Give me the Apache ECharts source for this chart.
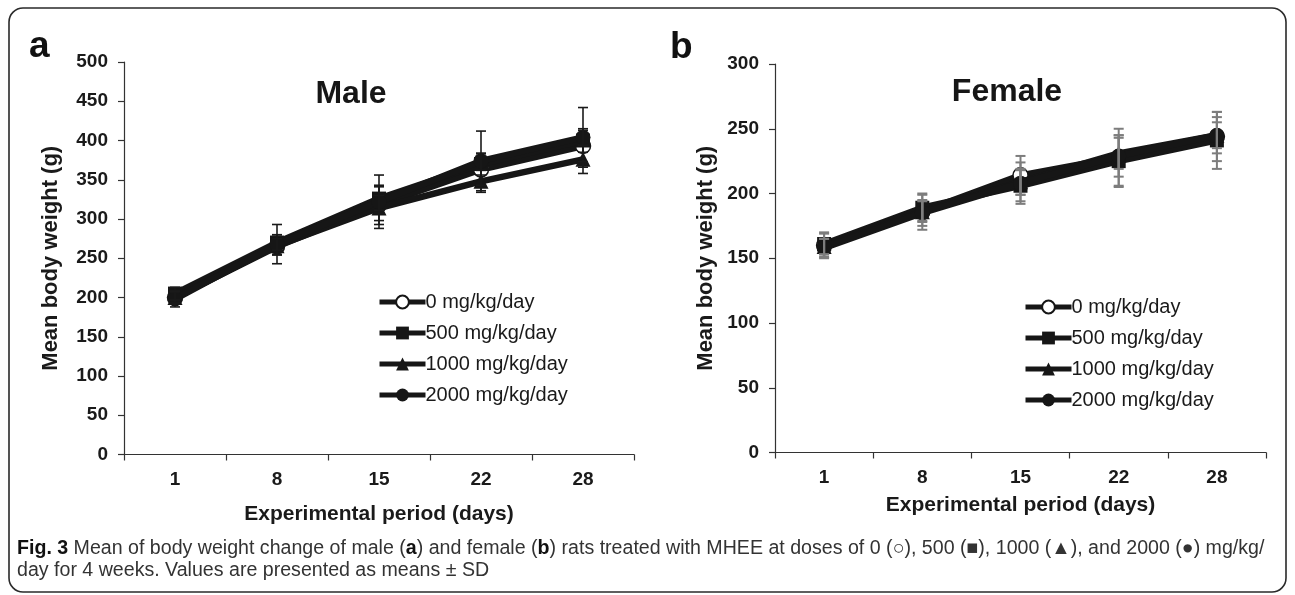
<!DOCTYPE html>
<html>
<head>
<meta charset="utf-8">
<script src="https://cdn.jsdelivr.net/npm/echarts@6/dist/echarts.min.js"></script>
<style>
html,body{margin:0;padding:0;background:#fff;}
#c{width:1295px;height:595px;}
</style>
</head>
<body>
<div id="c"></div>
<script>
// ---- data ----
const days = ['1', '8', '15', '22', '28'];
const doseNames = ['0 mg/kg/day', '500 mg/kg/day', '1000 mg/kg/day', '2000 mg/kg/day'];

const male0 = [200, 265, 318, 363, 393];
const male500 = [205, 270, 326, 370, 400];
const male1000 = [200, 266, 314, 348, 376];
const male2000 = [198, 268, 322, 374, 404];
const maleSd0 = [8, 10, 25, 20, 20];
const maleSd500 = [8, 10, 15, 14, 15];
const maleSd1000 = [7, 12, 16, 14, 18];
const maleSd2000 = [10, 25, 34, 38, 38];

const female0 = [160, 186, 214, 228, 244];
const female500 = [161, 189, 206, 225, 241];
const female1000 = [159, 186, 209, 231, 245];
const female2000 = [158, 185, 208, 229, 245];
const femaleSd0 = [10, 14, 15, 22, 19];
const femaleSd500 = [8, 10, 12, 20, 22];
const femaleSd1000 = [6, 8, 10, 12, 10];
const femaleSd2000 = [7, 10, 16, 16, 14];

const maleTicksMax = 500;
const femaleTicksMax = 300;

// ---- build ----
const FONT = '"Liberation Sans", Arial, sans-serif';
const INK = '#161616';
const symbols = ['circle', 'rect', 'triangle', 'circle'];

function lineSeries(name, idx, data, gi) {
  const open = idx === 0;
  return {
    type: 'line', name: name, xAxisIndex: gi, yAxisIndex: gi,
    data: data, symbol: symbols[idx],
    symbolSize: idx === 1 ? 14 : 15,
    lineStyle: {color: INK, width: 6.5},
    itemStyle: open ? {color: '#fff', borderColor: INK, borderWidth: 1.5} : {color: INK, borderColor: INK, borderWidth: 0},
    emphasis: {disabled: true},
    z: 3 + idx, animation: false
  };
}
function errSeries(means, sds, gi, color, width) {
  const d = means.map((m, i) => [i, m - sds[i], m + sds[i]]);
  return {
    type: 'custom', xAxisIndex: gi, yAxisIndex: gi, data: d, z: 10, animation: false,
    silent: true,
    renderItem: function (params, api) {
      const x = api.value(0);
      const lo = api.coord([x, api.value(1)]);
      const hi = api.coord([x, api.value(2)]);
      const w = 5;
      const st = {stroke: color, lineWidth: width};
      return {type: 'group', children: [
        {type: 'line', shape: {x1: lo[0], y1: lo[1], x2: hi[0], y2: hi[1]}, style: st},
        {type: 'line', shape: {x1: lo[0] - w, y1: lo[1], x2: lo[0] + w, y2: lo[1]}, style: st},
        {type: 'line', shape: {x1: hi[0] - w, y1: hi[1], x2: hi[0] + w, y2: hi[1]}, style: st}
      ]};
    }
  };
}

const axisLine = {lineStyle: {color: '#333', width: 1.2}};
function xAxis(gi, nameGap) {
  return {
    type: 'category', gridIndex: gi, data: days, boundaryGap: true,
    axisLine: axisLine, axisTick: {show: true, length: 6, lineStyle: {color: '#333', width: 1.2}},
    axisLabel: {color: '#1a1a1a', fontFamily: FONT, fontWeight: 'bold', fontSize: 19, margin: 16},
    name: 'Experimental period (days)', nameLocation: 'middle', nameGap: nameGap,
    nameTextStyle: {color: '#1a1a1a', fontFamily: FONT, fontWeight: 'bold', fontSize: 21},
    splitLine: {show: false}
  };
}
function yAxis(gi, max, nameGap) {
  return {
    type: 'value', gridIndex: gi, min: 0, max: max, interval: 50,
    axisLine: {show: true, lineStyle: {color: '#333', width: 1.2}},
    axisTick: {show: true, length: 6, lineStyle: {color: '#333', width: 1.2}},
    axisLabel: {color: '#1a1a1a', fontFamily: FONT, fontWeight: 'bold', fontSize: 19, margin: 16},
    splitLine: {show: false},
    name: 'Mean body weight (g)', nameLocation: 'middle', nameGap: nameGap, nameRotate: 90,
    nameTextStyle: {color: '#1a1a1a', fontFamily: FONT, fontWeight: 'bold', fontSize: 22}
  };
}
function legend(left, top) {
  return {
    orient: 'vertical', left: left, top: top, data: doseNames, padding: 0,
    itemWidth: 46, itemHeight: 16, itemGap: 11,
    lineStyle: {width: 5, color: INK},
    textStyle: {color: '#1a1a1a', fontFamily: FONT, fontSize: 20, padding: [0, 0, 0, -5]},
    selectedMode: false
  };
}

const maleSets = [male0, male500, male1000, male2000];
const maleSds = [maleSd0, maleSd500, maleSd1000, maleSd2000];
const femaleSets = [female0, female500, female1000, female2000];
const femaleSds = [femaleSd0, femaleSd500, femaleSd1000, femaleSd2000];

const series = [];
maleSets.forEach((d, i) => series.push(lineSeries(doseNames[i], i, d, 0)));
femaleSets.forEach((d, i) => series.push(lineSeries(doseNames[i], i, d, 1)));
maleSets.forEach((d, i) => series.push(errSeries(d, maleSds[i], 0, '#1a1a1a', 1.6)));
femaleSets.forEach((d, i) => series.push(errSeries(d, femaleSds[i], 1, '#7d7d7d', 2)));

const chart = echarts.init(document.getElementById('c'), null, {renderer: 'canvas'});
chart.setOption({
  backgroundColor: '#fff',
  animation: false,
  title: [
    {text: 'Male', left: 346, top: 73, textAlign: 'center',
     textStyle: {fontFamily: FONT, fontWeight: 'bold', fontSize: 32, color: '#161616'}},
    {text: 'Female', left: 1002, top: 71, textAlign: 'center',
     textStyle: {fontFamily: FONT, fontWeight: 'bold', fontSize: 32, color: '#161616'}}
  ],
  grid: [
    {left: 124, top: 62, width: 510, height: 392.5},
    {left: 775, top: 64, width: 491, height: 388.5}
  ],
  xAxis: [xAxis(0, 49), xAxis(1, 42)],
  yAxis: [yAxis(0, maleTicksMax, 62), yAxis(1, femaleTicksMax, 58)],
  legend: [legend(377, 292), legend(1023, 297)],
  series: series,
  graphic: [
    {type: 'rect', shape: {x: 9, y: 8, width: 1277, height: 584, r: 14},
     style: {fill: 'none', stroke: '#2a2a2a', lineWidth: 1.6}, z: -1},
    {type: 'text', x: 29, y: 65, style: {text: 'a', fontFamily: FONT, fontWeight: 'bold', fontSize: 37, fill: '#111', textVerticalAlign: 'bottom'}},
    {type: 'text', x: 670, y: 66, style: {text: 'b', fontFamily: FONT, fontWeight: 'bold', fontSize: 37, fill: '#111', textVerticalAlign: 'bottom'}},
    {type: 'text', x: 17, y: 538, style: {
      text: '{b|Fig. 3} Mean of body weight change of male ({b|a}) and female ({b|b}) rats treated with MHEE at doses of 0 (○), 500 (■), 1000 (▲), and 2000 (●) mg/kg/\nday for 4 weeks. Values are presented as means ± SD',
      fontFamily: FONT, fontSize: 19.6, fill: '#333', lineHeight: 22,
      rich: {b: {fontFamily: FONT, fontWeight: 'bold', fontSize: 19.6, fill: '#111'}}
    }}
  ]
});
</script>
</body>
</html>
